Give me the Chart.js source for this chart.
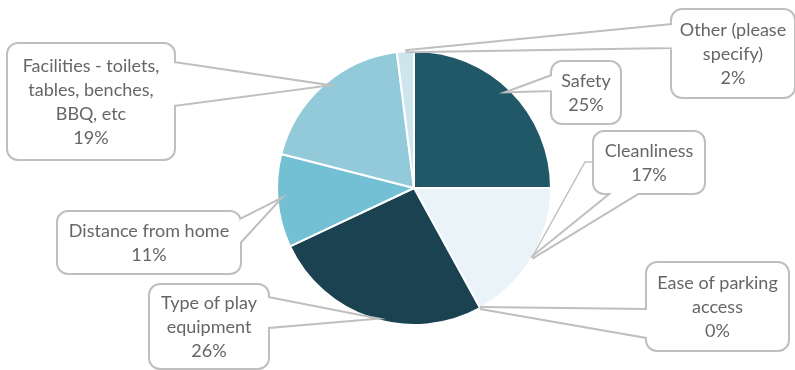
<!DOCTYPE html>
<html>
<head>
<meta charset="utf-8">
<script src="https://cdn.jsdelivr.net/npm/chart.js@4/dist/chart.umd.min.js"></script>
<style>
  html, body { margin: 0; padding: 0; background: #fff; }
  #wrap { width: 795px; height: 370px; }
</style>
</head>
<body>
<div id="wrap"><canvas id="chart"></canvas></div>
<script>
// slices run clockwise from 12 o'clock
const categories = [
  "Safety",
  "Cleanliness",
  "Ease of parking\naccess",
  "Type of play\nequipment",
  "Distance from home",
  "Facilities - toilets,\ntables, benches,\nBBQ, etc",
  "Other (please\nspecify)"
];
const shares = [25, 17, 0, 26, 11, 19, 2];
const sliceColors = ["#215867", "#eaf4f8", "#f2f2f2", "#1b4250", "#73bfd4", "#93cad9", "#cde6ee"];

// label boxes and where each wedge leaves its box
const callouts = [
  { x: 552, y: 62, w: 68, h: 61, base: [[552, 76], [552, 90]] },
  { x: 594, y: 132, w: 110, h: 61, base: [[612, 193], [638, 193]], elbow: [[594, 162], [585, 162]] },
  { x: 647, y: 263, w: 141, h: 87, base: [[647, 310], [647, 337]] },
  { x: 150, y: 285, w: 118, h: 83, base: [[268, 298], [268, 327]] },
  { x: 58, y: 212, w: 182, h: 61, base: [[240, 220], [240, 242]] },
  { x: 8, y: 44, w: 166, h: 115, base: [[174, 63], [174, 105]] },
  { x: 672, y: 10, w: 122, h: 87, base: [[672, 25], [672, 47]] }
];

const calloutPlugin = {
  id: "callouts",
  afterDatasetsDraw(chart) {
    const ctx = chart.ctx;
    const arcs = chart.getDatasetMeta(0).data;
    ctx.save();
    arcs.forEach((arc, i) => {
      const c = callouts[i];
      const p = arc.getProps(["x", "y", "startAngle", "endAngle", "outerRadius"], true);
      const mid = (p.startAngle + p.endAngle) / 2;
      const tx = p.x + Math.cos(mid) * p.outerRadius;
      const ty = p.y + Math.sin(mid) * p.outerRadius;

      const outline = () => {
        ctx.beginPath();
        ctx.roundRect(c.x, c.y, c.w, c.h, 10);
        ctx.moveTo(c.base[0][0], c.base[0][1]);
        ctx.lineTo(tx, ty);
        ctx.lineTo(c.base[1][0], c.base[1][1]);
        ctx.closePath();
      };

      if (c.elbow) {
        ctx.beginPath();
        ctx.moveTo(c.elbow[0][0], c.elbow[0][1]);
        ctx.lineTo(c.elbow[1][0], c.elbow[1][1]);
        ctx.lineTo(tx, ty);
        ctx.lineWidth = 1.5;
        ctx.strokeStyle = "#c0c0c0";
        ctx.stroke();
      }

      outline();
      ctx.lineWidth = 4;
      ctx.strokeStyle = "#bfbfbf";
      ctx.stroke();
      ctx.fillStyle = "#ffffff";
      ctx.fill();

      const lines = (chart.data.labels[i] + "\n" + shares[i] + "%").split("\n");
      ctx.font = "18px Lato";
      ctx.fillStyle = "#666666";
      ctx.textAlign = "center";
      ctx.textBaseline = "middle";
      const lh = 24;
      const cy = c.y + c.h / 2 + 1 - (lines.length - 1) * lh / 2;
      lines.forEach((t, k) => ctx.fillText(t, c.x + c.w / 2, cy + k * lh));
    });
    ctx.restore();
  }
};

new Chart(document.getElementById("chart"), {
  type: "pie",
  data: {
    labels: categories,
    datasets: [{
      data: shares,
      backgroundColor: sliceColors,
      borderColor: "#ffffff",
      borderWidth: 2
    }]
  },
  options: {
    responsive: true,
    maintainAspectRatio: false,
    animation: false,
    layout: { padding: { left: 276, right: 243, top: 50, bottom: 44 } },
    plugins: {
      legend: { display: false },
      tooltip: { enabled: false }
    }
  },
  plugins: [calloutPlugin]
});
</script>
</body>
</html>
